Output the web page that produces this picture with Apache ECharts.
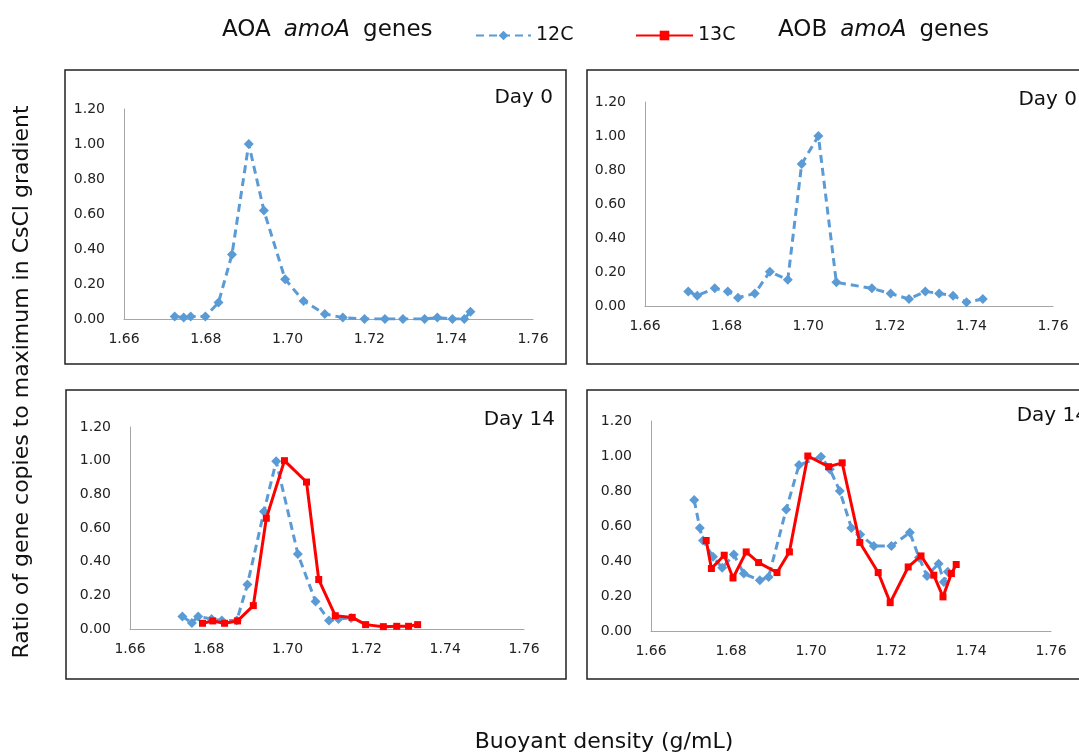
<!DOCTYPE html>
<html>
<head>
<meta charset="utf-8">
<script src="https://cdn.jsdelivr.net/npm/echarts@6/dist/echarts.min.js"></script>
<style>
  html, body { margin: 0; padding: 0; background: #fff; }
  #main { width: 1079px; height: 754px; }
</style>
</head>
<body>
<div id="main"></div>
<script>
// 数据：浮力密度 (g/mL) 和比值
var aoaDay0X = [1.6724, 1.6746, 1.6763, 1.6799, 1.6831, 1.6864, 1.6905, 1.6942, 1.6994, 1.7039, 1.7091, 1.7135, 1.7188, 1.7238, 1.7282, 1.7335, 1.7366, 1.7403, 1.7432, 1.7447];
var aoaDay0Y12C = [0.015, 0.008, 0.015, 0.015, 0.094, 0.369, 1.00, 0.62, 0.227, 0.103, 0.029, 0.008, 0.0, 0.0, 0.0, 0.0, 0.008, 0.0, 0.0, 0.042];

var aobDay0X = [1.6706, 1.6728, 1.6771, 1.6803, 1.6828, 1.6869, 1.6906, 1.6950, 1.6984, 1.7025, 1.7069, 1.7156, 1.7202, 1.7247, 1.7287, 1.7321, 1.7355, 1.7388, 1.7428];
var aobDay0Y12C = [0.086, 0.061, 0.104, 0.086, 0.049, 0.073, 0.202, 0.155, 0.835, 1.00, 0.139, 0.104, 0.073, 0.041, 0.086, 0.073, 0.061, 0.022, 0.041];

var aoaDay14X12C = [1.6733, 1.6757, 1.6773, 1.6807, 1.6833, 1.6871, 1.6898, 1.6940, 1.6971, 1.7026, 1.7071, 1.7105, 1.7129, 1.7161];
var aoaDay14Y12C = [0.075, 0.036, 0.075, 0.060, 0.050, 0.050, 0.264, 0.698, 0.996, 0.446, 0.163, 0.050, 0.060, 0.065];
var aoaDay14X13C = [1.6784, 1.6810, 1.6840, 1.6873, 1.6913, 1.6946, 1.6992, 1.7048, 1.7079, 1.7121, 1.7164, 1.7198, 1.7243, 1.7277, 1.7307, 1.7330];
var aoaDay14Y13C = [0.034, 0.048, 0.034, 0.048, 0.139, 0.658, 1.00, 0.873, 0.294, 0.079, 0.069, 0.026, 0.014, 0.016, 0.016, 0.026];

var aobDay14X12C = [1.6708, 1.6722, 1.6730, 1.6755, 1.6778, 1.6807, 1.6832, 1.6872, 1.6894, 1.6938, 1.6970, 1.7025, 1.7047, 1.7072, 1.7101, 1.7123, 1.7157, 1.7201, 1.7247, 1.7270, 1.7290, 1.7319, 1.7332, 1.7342];
var aobDay14Y12C = [0.748, 0.589, 0.517, 0.424, 0.361, 0.437, 0.328, 0.290, 0.309, 0.694, 0.948, 0.996, 0.925, 0.800, 0.589, 0.551, 0.486, 0.486, 0.563, 0.420, 0.315, 0.385, 0.280, 0.338];
var aobDay14X13C = [1.6738, 1.6751, 1.6783, 1.6805, 1.6838, 1.6869, 1.6915, 1.6946, 1.6992, 1.7044, 1.7078, 1.7122, 1.7168, 1.7198, 1.7243, 1.7275, 1.7307, 1.7330, 1.7351, 1.7363];
var aobDay14Y13C = [0.517, 0.357, 0.433, 0.303, 0.452, 0.391, 0.334, 0.452, 1.00, 0.939, 0.961, 0.506, 0.334, 0.162, 0.366, 0.429, 0.319, 0.195, 0.328, 0.380];

var xTicks = [1.66, 1.68, 1.70, 1.72, 1.74, 1.76];
var yTicks = [0, 0.2, 0.4, 0.6, 0.8, 1.0, 1.2];
var dayLabels = ['Day 0', 'Day 0', 'Day 14', 'Day 14'];

var FONT = 'DejaVu Sans';
var BLUE = '#5b9bd5';
var RED = '#ff0000';

function pairs(xs, ys) {
    var out = [];
    for (var i = 0; i < xs.length; i++) {
        out.push([xs[i], ys[i]]);
    }
    return out;
}

var grids = [
    { left: 124, top: 109, width: 409, height: 210 },
    { left: 645, top: 102, width: 408, height: 204 },
    { left: 130, top: 427, width: 394, height: 202 },
    { left: 651, top: 421, width: 400, height: 210 }
];

var frames = [
    [65, 70, 501, 294],
    [587, 70, 520, 294],
    [66, 390, 500, 289],
    [587, 390, 520, 289]
];

var dayPos = [[553, 98], [1077, 100], [555, 420], [1088, 416]];

var xAxes = [], yAxes = [];
for (var g = 0; g < 4; g++) {
    xAxes.push({
        type: 'value', gridIndex: g,
        min: xTicks[0], max: xTicks[xTicks.length - 1], interval: 0.02,
        axisLine: { show: true, lineStyle: { color: '#a6a6a6', width: 1 } },
        axisTick: { show: false },
        splitLine: { show: false },
        axisLabel: {
            margin: 13, color: '#222', fontFamily: FONT, fontSize: 14,
            formatter: function (v) { return v.toFixed(2); }
        }
    });
    yAxes.push({
        type: 'value', gridIndex: g,
        min: yTicks[0], max: yTicks[yTicks.length - 1], interval: 0.2,
        axisLine: { show: true, lineStyle: { color: '#a6a6a6', width: 1 } },
        axisTick: { show: false },
        splitLine: { show: false },
        axisLabel: {
            margin: 19, color: '#222', fontFamily: FONT, fontSize: 14,
            formatter: function (v) { return v.toFixed(2); }
        }
    });
}

function s12(name, g, data) {
    return {
        name: name, type: 'line', xAxisIndex: g, yAxisIndex: g, data: data,
        symbol: 'diamond', symbolSize: 10,
        lineStyle: { color: BLUE, width: 3, type: [8, 5] },
        itemStyle: { color: BLUE },
        z: 2
    };
}
function s13(name, g, data) {
    return {
        name: name, type: 'line', xAxisIndex: g, yAxisIndex: g, data: data,
        symbol: 'rect', symbolSize: 7,
        lineStyle: { color: RED, width: 3 },
        itemStyle: { color: RED },
        z: 3
    };
}

var series = [
    s12('12C', 0, pairs(aoaDay0X, aoaDay0Y12C)),
    s12('12C', 1, pairs(aobDay0X, aobDay0Y12C)),
    s12('12C', 2, pairs(aoaDay14X12C, aoaDay14Y12C)),
    s13('13C', 2, pairs(aoaDay14X13C, aoaDay14Y13C)),
    s12('12C', 3, pairs(aobDay14X12C, aobDay14Y12C)),
    s13('13C', 3, pairs(aobDay14X13C, aobDay14Y13C))
];

var graphics = [];
for (var f = 0; f < 4; f++) {
    graphics.push({
        type: 'rect', silent: true,
        shape: { x: frames[f][0], y: frames[f][1], width: frames[f][2], height: frames[f][3] },
        style: { fill: null, stroke: '#222', lineWidth: 1.5 }
    });
    graphics.push({
        type: 'text', x: dayPos[f][0], y: dayPos[f][1],
        style: { text: dayLabels[f], font: '20px "' + FONT + '"', fill: '#111', align: 'right', verticalAlign: 'middle' }
    });
}
var headRich = {
    n: { fontFamily: FONT, fontSize: 23, fill: '#111' },
    i: { fontFamily: FONT, fontSize: 23, fontStyle: 'italic', fill: '#111' },
    s: { fontFamily: FONT, fontSize: 23, width: 13 }
};
graphics.push({
    type: 'text', x: 222, y: 30,
    style: { text: '{n|AOA}{s| }{i|amoA}{s| }{n|genes}', verticalAlign: 'middle', rich: headRich }
});
graphics.push({
    type: 'text', x: 778, y: 30,
    style: { text: '{n|AOB}{s| }{i|amoA}{s| }{n|genes}', verticalAlign: 'middle', rich: headRich }
});
graphics.push({
    type: 'text', x: 22, y: 382, rotation: Math.PI / 2,
    style: { text: 'Ratio of gene copies to maximum in CsCl gradient', font: '22px "' + FONT + '"', fill: '#111', align: 'center', verticalAlign: 'middle' }
});
graphics.push({
    type: 'text', x: 604, y: 742,
    style: { text: 'Buoyant density (g/mL)', font: '22px "' + FONT + '"', fill: '#111', align: 'center', verticalAlign: 'middle' }
});

var legendText = { fontFamily: FONT, fontSize: 19, color: '#111' };

var myChart = echarts.init(document.getElementById('main'));
myChart.setOption({
    backgroundColor: '#fff',
    animation: false,
    legend: [
        { data: ['12C'], left: 470, top: 21, itemWidth: 55, itemHeight: 12, textStyle: legendText },
        { data: ['13C'], left: 630, top: 21, itemWidth: 57, itemHeight: 12, textStyle: legendText }
    ],
    grid: grids,
    xAxis: xAxes,
    yAxis: yAxes,
    series: series,
    graphic: graphics
});
</script>
</body>
</html>
